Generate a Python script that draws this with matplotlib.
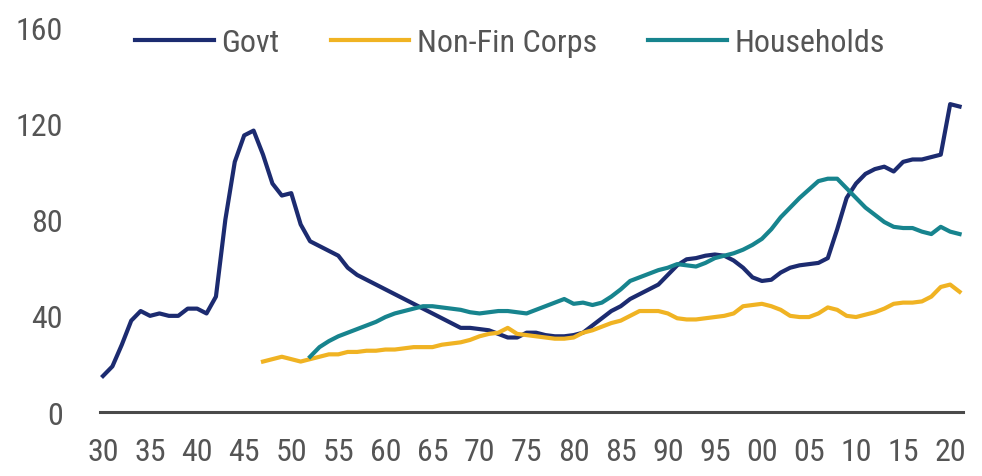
import numpy as np
import matplotlib
matplotlib.use("Agg")
import matplotlib.pyplot as plt
from matplotlib import font_manager

# debt as % of GDP, annual readings
govt = [15, 19, 28, 38, 42, 40, 41, 40, 40, 43,
        43, 41, 48, 80, 104, 115, 117, 107, 95, 90,
        91, 78, 71, 69, 67, 65, 60, 57, 55, 53,
        51, 49, 47, 45, 43, 41, 39, 37, 35, 35,
        34.5, 34, 32.5, 31, 31, 33, 33, 32, 31.5, 31.5,
        32, 33, 36, 39, 42, 44, 47, 49, 51, 53,
        57, 61, 63.5, 64, 65, 65.5, 65, 63, 60, 56,
        54.5, 55, 58, 60, 61, 61.5, 62, 64, 76, 89,
        95, 99, 101, 102, 100, 104, 105, 105, 106, 107,
        128, 127]
govt_start = 1930

nonfin = [21, 22, 23,
          22, 21, 22, 23, 24, 24, 25, 25, 25.5, 25.5,
          26, 26, 26.5, 27, 27, 27, 28, 28.5, 29, 30,
          31.5, 32.5, 33, 35, 32.5, 32, 31.5, 31, 30.5, 30.5,
          31, 33, 34, 35.5, 37, 38, 40, 42, 42, 42,
          41, 39, 38.5, 38.5, 39, 39.5, 40, 41, 44, 44.5,
          45, 44, 42.5, 40, 39.5, 39.5, 41, 43.5, 42.5, 40,
          39.5, 40.5, 41.5, 43, 45, 45.5, 45.5, 46, 48, 52,
          53, 50]
nonfin_start = 1947

households = [23, 27, 29.5, 31.5, 33, 34.5, 36, 37.5,
              39.5, 41, 42, 43, 44, 44, 43.5, 43, 42.5, 41.5,
              41, 41.5, 42, 42, 41.5, 41, 42.5, 44, 45.5, 47,
              45, 45.5, 44.5, 45.5, 48, 51, 54.5, 56, 57.5, 59,
              60, 61.5, 61, 60.5, 62, 64, 65, 66, 67.5, 69.5,
              72, 76, 81, 85, 89, 92.5, 96, 97, 97, 93,
              89, 85, 82, 79, 77, 76.5, 76.5, 75, 74, 77,
              75, 74]
households_start = 1952

tick_years = list(range(1930, 2021, 5))
tick_labels = [f"{y % 100:02d}" for y in tick_years]
y_ticks = [0, 40, 80, 120, 160]

available = {f.name for f in font_manager.fontManager.ttflist}
family = "DejaVu Sans"
for cand in ["Liberation Sans Narrow", "Roboto Condensed", "Open Sans Condensed", "Liberation Sans"]:
    if cand in available:
        family = cand
        break
plt.rcParams["font.family"] = family
fsize = 23 if "Narrow" in family or "Condensed" in family else 18

text_col = "#555555"
fig = plt.figure(figsize=(9.82, 4.77), dpi=100)
ax = fig.add_axes([0.102, 0.134, 0.879, 0.807])

ax.plot(np.arange(govt_start, govt_start + len(govt)), govt,
        color="#1c2b70", lw=3, label="Govt", solid_joinstyle="round")
ax.plot(np.arange(nonfin_start, nonfin_start + len(nonfin)), nonfin,
        color="#f0b323", lw=3, label="Non-Fin Corps", solid_joinstyle="round")
ax.plot(np.arange(households_start, households_start + len(households)), households,
        color="#17848e", lw=3, label="Households", solid_joinstyle="round")

ax.set_xlim(1929.7, 2021.4)
ax.set_ylim(0, 160)
ax.set_xticks(tick_years)
ax.set_xticklabels(tick_labels)
ax.set_yticks(y_ticks)
ax.tick_params(length=0, labelsize=fsize, colors=text_col)
ax.tick_params(axis="x", pad=18)
ax.tick_params(axis="y", pad=27)

for s in ["top", "right", "left"]:
    ax.spines[s].set_visible(False)
ax.spines["bottom"].set_color("#4a4a4a")
ax.spines["bottom"].set_linewidth(2.2)

leg = ax.legend(ncol=3, loc="center", bbox_to_anchor=(0.475, 0.96), frameon=False,
                fontsize=fsize, handlelength=2.45, handletextpad=0.25,
                columnspacing=1.6, borderaxespad=0)
for t in leg.get_texts():
    t.set_color(text_col)

fig.savefig("out.png", dpi=100)
